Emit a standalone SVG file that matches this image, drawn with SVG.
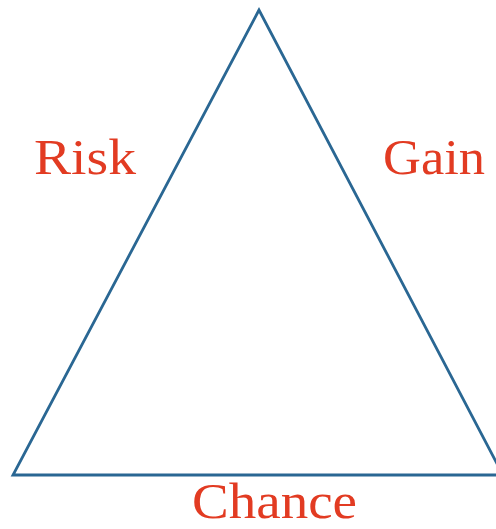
<svg xmlns="http://www.w3.org/2000/svg" width="496" height="529" viewBox="0 0 496 529">
<style>
.edge{fill:none;stroke:#2a6793;stroke-width:2.8;stroke-linejoin:miter}
.lbl{font-family:"Liberation Serif","Times New Roman",serif;font-size:51px;fill:#e23b22}
</style>
<rect width="496" height="529" fill="#ffffff"/>
<g id="connectors">
<polygon class="edge" points="259,10 13,475 503,475"/>
</g>
<g id="risk"><text class="lbl" x="34" y="174" textLength="102" lengthAdjust="spacingAndGlyphs">Risk</text></g>
<g id="gain"><text class="lbl" x="383" y="174" textLength="102" lengthAdjust="spacingAndGlyphs">Gain</text></g>
<g id="chance"><text class="lbl" x="192" y="518" textLength="165" lengthAdjust="spacingAndGlyphs">Chance</text></g>
</svg>
